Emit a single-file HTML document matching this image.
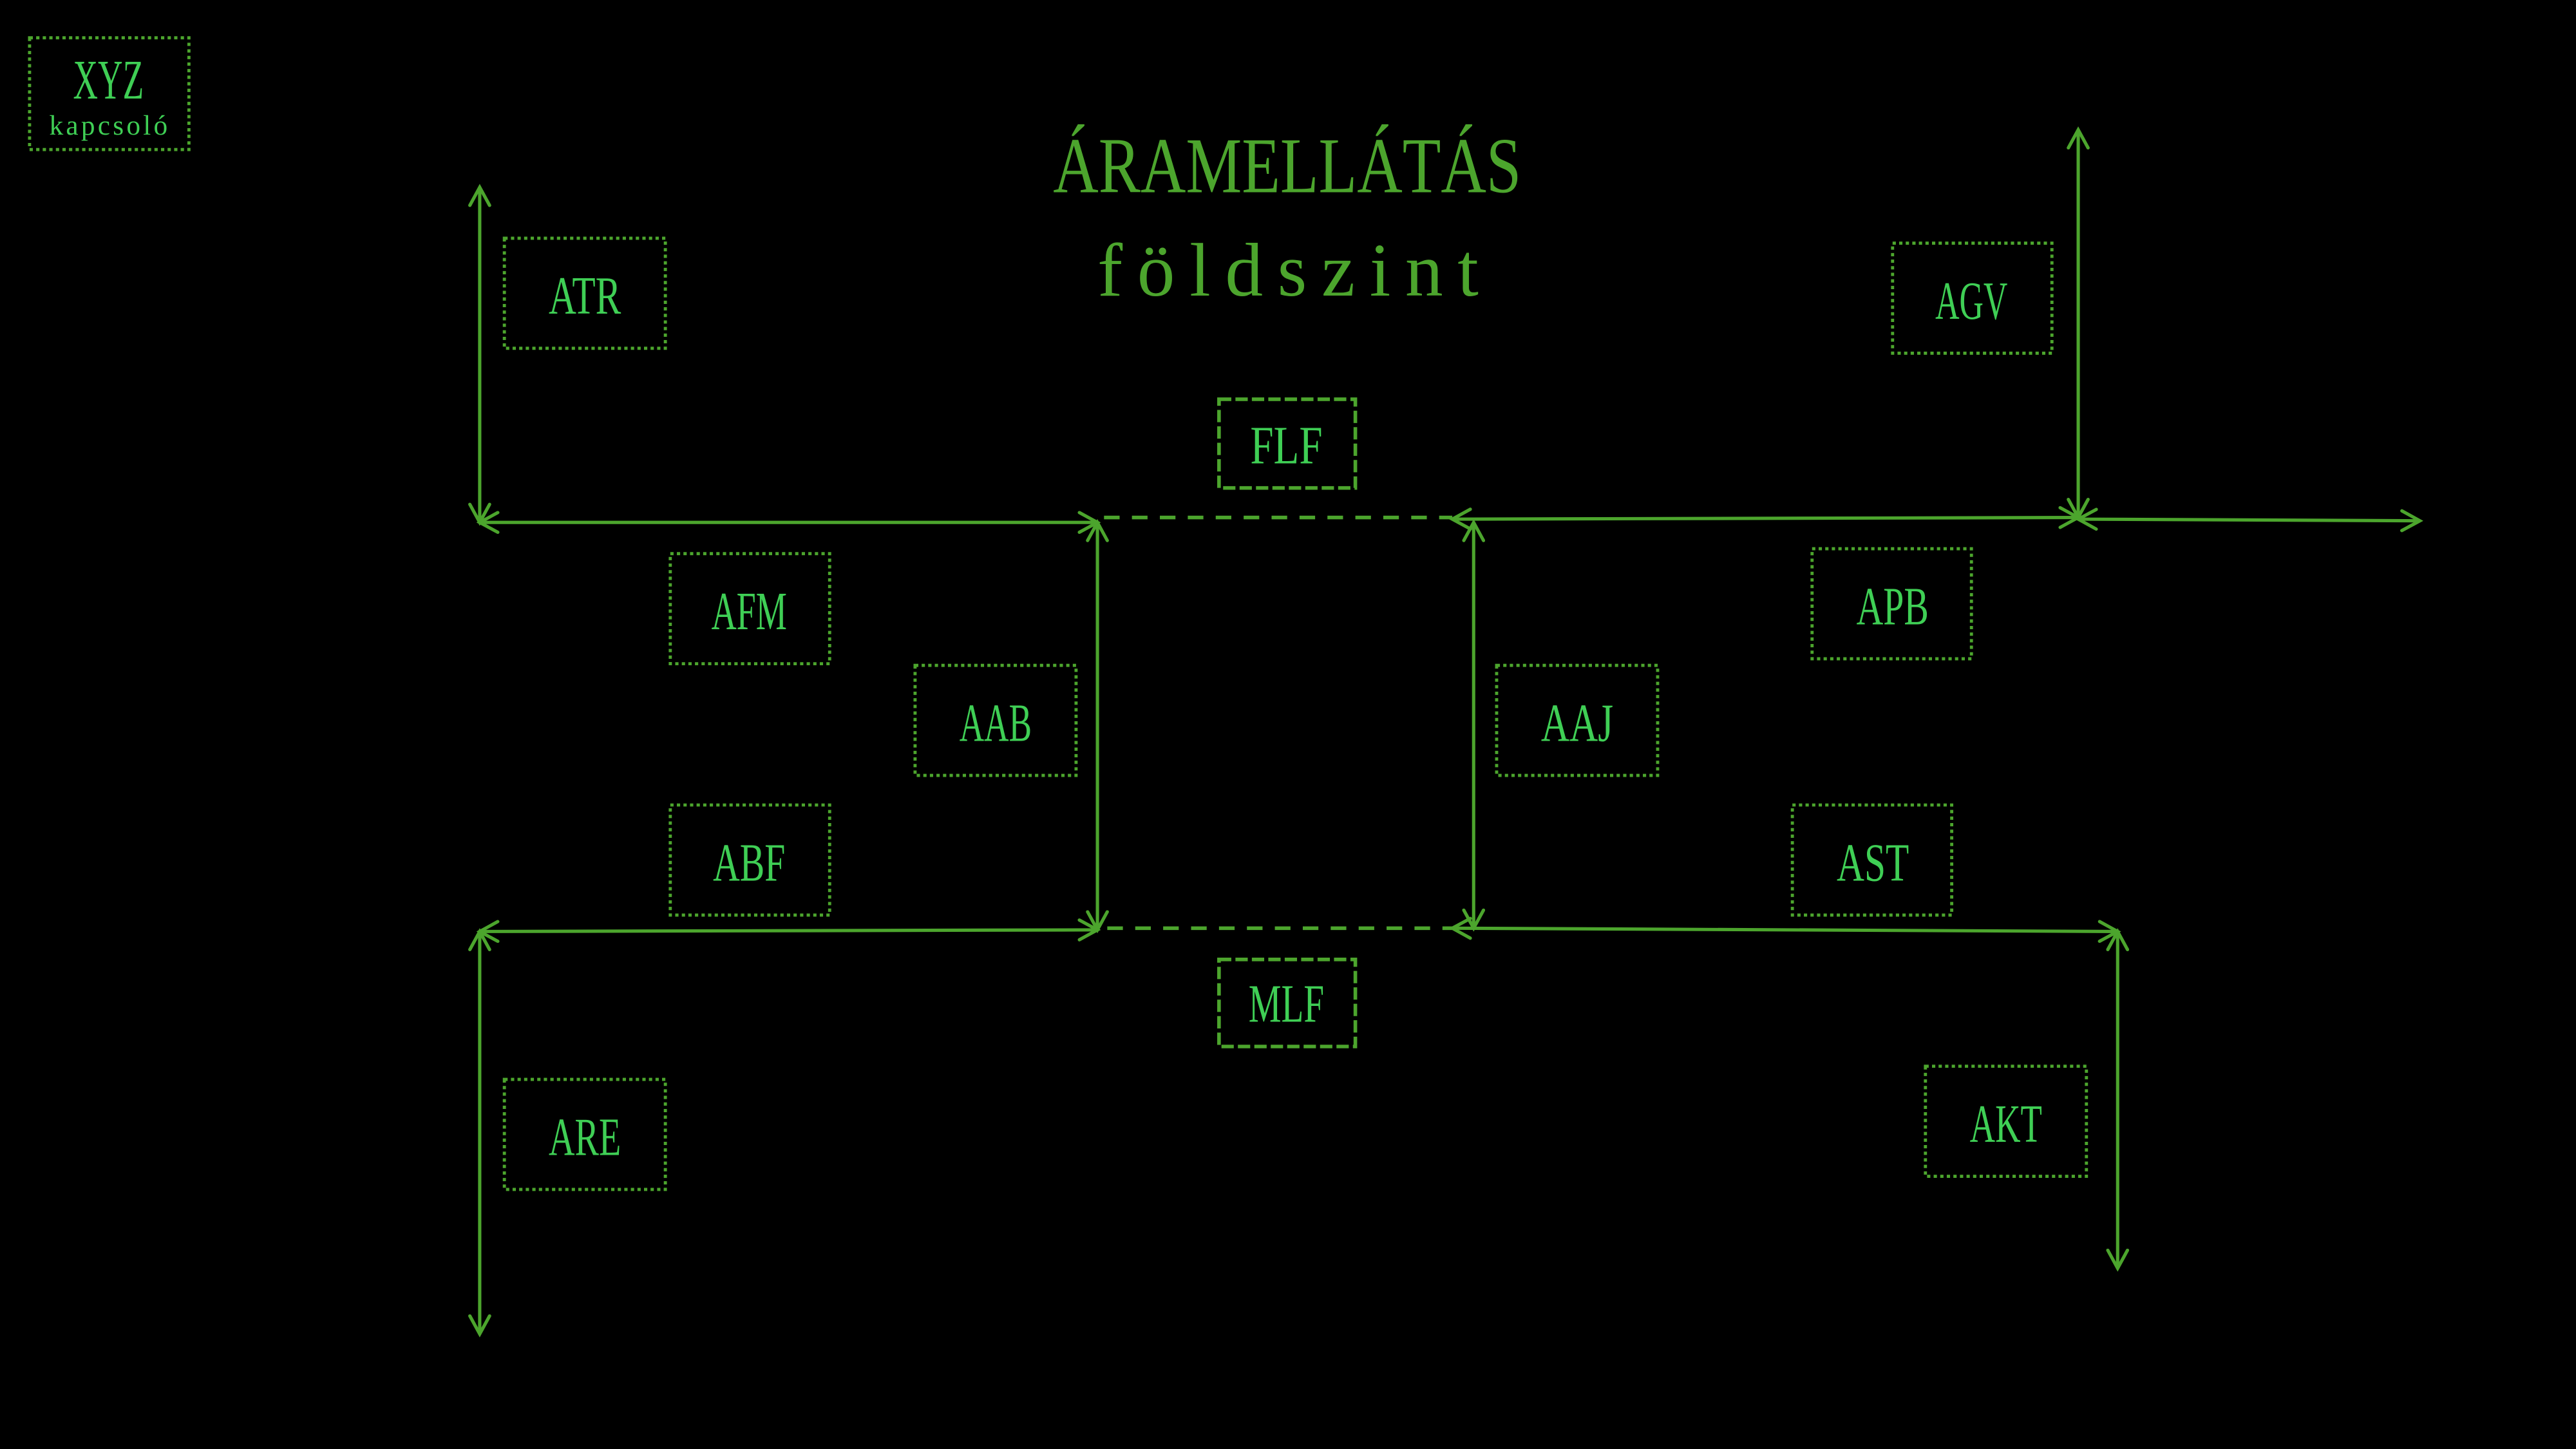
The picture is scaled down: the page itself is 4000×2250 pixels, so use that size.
<!DOCTYPE html>
<html><head><meta charset="utf-8"><style>html,body{margin:0;padding:0;background:#000}svg{display:block}</style></head>
<body>
<svg xmlns="http://www.w3.org/2000/svg" width="4000" height="2250" viewBox="0 0 1568 882">
<rect width="1568" height="882" fill="#000"/>
<defs>
<marker id="a" viewBox="0 0 14 14" refX="12" refY="7" markerWidth="14" markerHeight="14" markerUnits="userSpaceOnUse" orient="auto-start-reverse">
<path d="M1,1 L12,7 L1,13" fill="none" stroke="#4ca52d" stroke-width="2" stroke-linecap="round"/>
</marker>
</defs>
<g fill="none" stroke="#4ca52d" stroke-width="1.9" stroke-dasharray="2 2">
<rect x="18" y="23" width="97" height="68"/>
<rect x="307" y="145" width="98" height="67"/>
<rect x="1152" y="148" width="97" height="67"/>
<rect x="408" y="337" width="97" height="67"/>
<rect x="1103" y="334" width="97" height="67"/>
<rect x="557" y="405" width="98" height="67"/>
<rect x="911" y="405" width="98" height="67"/>
<rect x="408" y="490" width="97" height="67"/>
<rect x="1091" y="490" width="97" height="67"/>
<rect x="307" y="657" width="98" height="67"/>
<rect x="1172" y="649" width="98" height="67"/>
</g>
<g fill="none" stroke="#4ca52d" stroke-width="2.2" stroke-dasharray="7.5 2.5">
<rect x="742" y="243" width="83" height="54"/>
<rect x="742" y="584" width="83" height="53"/>
</g>
<g fill="none" stroke="#4ca52d" stroke-width="2" marker-start="url(#a)" marker-end="url(#a)">
<line x1="292" y1="114" x2="292" y2="318"/>
<line x1="292" y1="318" x2="668" y2="318"/>
<line x1="884" y1="316" x2="1265" y2="315"/>
<line x1="1265" y1="79" x2="1265" y2="315"/>
<line x1="1265" y1="316" x2="1473" y2="317"/>
<line x1="668" y1="318" x2="668" y2="566"/>
<line x1="897" y1="318" x2="897" y2="565"/>
<line x1="292" y1="567" x2="668" y2="566"/>
<line x1="884" y1="565" x2="1289" y2="567"/>
<line x1="292" y1="567" x2="292" y2="812"/>
<line x1="1289" y1="567" x2="1289" y2="772"/>
</g>
<g stroke="#4ca52d" stroke-width="2.2" stroke-dasharray="9.5 7.5">
<line x1="672" y1="315" x2="884" y2="315"/>
<line x1="674" y1="565" x2="884" y2="565"/>
</g>
<g font-family="Liberation Serif, serif" fill="#4ca52d" text-anchor="start">
<text x="641" y="117" font-size="48" textLength="285" lengthAdjust="spacingAndGlyphs">ÁRAMELLÁTÁS</text>
<text x="668" y="180" font-size="46" textLength="232" lengthAdjust="spacing">földszint</text>
</g>
<g font-family="Liberation Serif, serif" fill="#3fcf55" font-size="33" text-anchor="middle">
<text x="66" y="60" font-size="34" textLength="43" lengthAdjust="spacingAndGlyphs">XYZ</text>
<text x="66" y="82" font-size="17" textLength="72" lengthAdjust="spacing">kapcsoló</text>
<text x="356" y="191" textLength="44" lengthAdjust="spacingAndGlyphs">ATR</text>
<text x="1200" y="194" textLength="44" lengthAdjust="spacingAndGlyphs">AGV</text>
<text x="783" y="282" textLength="44" lengthAdjust="spacingAndGlyphs">FLF</text>
<text x="456" y="383" textLength="46" lengthAdjust="spacingAndGlyphs">AFM</text>
<text x="1152" y="380" textLength="44" lengthAdjust="spacingAndGlyphs">APB</text>
<text x="606" y="451" textLength="44" lengthAdjust="spacingAndGlyphs">AAB</text>
<text x="960" y="451" textLength="44" lengthAdjust="spacingAndGlyphs">AAJ</text>
<text x="456" y="536" textLength="44" lengthAdjust="spacingAndGlyphs">ABF</text>
<text x="1140" y="536" textLength="44" lengthAdjust="spacingAndGlyphs">AST</text>
<text x="783" y="622" textLength="46" lengthAdjust="spacingAndGlyphs">MLF</text>
<text x="356" y="703" textLength="44" lengthAdjust="spacingAndGlyphs">ARE</text>
<text x="1221" y="695" textLength="44" lengthAdjust="spacingAndGlyphs">AKT</text>
</g>
</svg>
</body></html>
